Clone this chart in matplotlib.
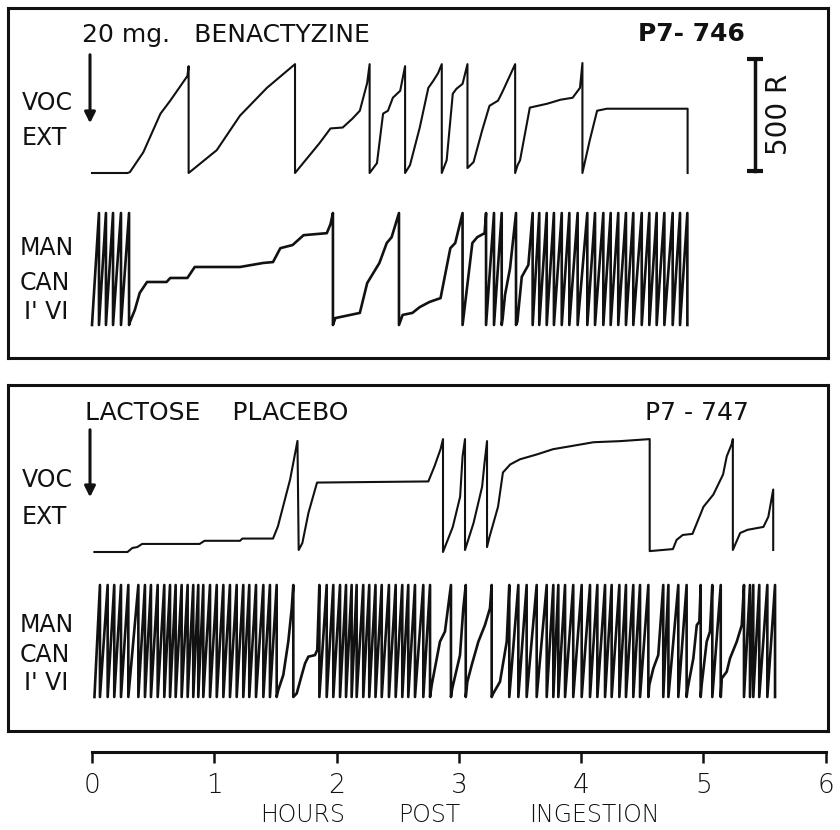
import matplotlib
matplotlib.use("Agg")
import matplotlib.pyplot as plt
import matplotlib.patches as mpatches

# ---- data: cumulative records, time in hours post ingestion, counts in responses ----
# top panel (P7-746, benactyzine), vocal extinction record
voc1_t = [0.00, 0.29, 0.31, 0.42, 0.56, 0.64, 0.78, 0.79, 0.79,
          1.02, 1.21, 1.43, 1.66, 1.66,
          1.86, 1.95, 2.05, 2.13, 2.19, 2.25, 2.27, 2.27,
          2.33, 2.38, 2.42, 2.46, 2.52, 2.56, 2.56,
          2.60, 2.68, 2.75, 2.79, 2.83, 2.86, 2.86,
          2.90, 2.95, 2.98, 3.03, 3.07, 3.07,
          3.12, 3.19, 3.25, 3.32, 3.36, 3.46, 3.46,
          3.48, 3.50, 3.58, 3.72, 3.83, 3.93, 3.99, 4.01, 4.01,
          4.07, 4.13, 4.21, 4.87, 4.87]
voc1_r = [0, 0, 4, 93, 265, 323, 433, 477, 0,
          102, 256, 380, 486, 0,
          133, 199, 203, 243, 278, 402, 486, 0,
          44, 265, 278, 336, 367, 477, 0,
          35, 203, 380, 411, 446, 486, 0,
          57, 354, 376, 398, 486, 22,
          49, 190, 300, 323, 367, 486, 0,
          35, 57, 292, 309, 327, 336, 380, 491, 0,
          146, 278, 287, 287, 0]

# top panel, manipulandum record: pen resets (peaks) and in-between points
man1_start = 0.0
man1_peaks = [0.057, 0.114, 0.172, 0.237, 0.303, 1.97, 2.51, 3.03, 3.222, 3.287,
              3.350, 3.467, 3.603, 3.657, 3.718, 3.777, 3.841, 3.903, 3.971,
              4.050, 4.113, 4.181, 4.241, 4.303, 4.366, 4.426, 4.495, 4.557,
              4.617, 4.680, 4.748, 4.808, 4.868]
man1_mid_t = [0.31, 0.35, 0.39, 0.45, 0.61, 0.64, 0.78, 0.84, 1.21, 1.40, 1.48,
              1.54, 1.64, 1.73, 1.92, 1.95,
              1.99, 2.19, 2.25, 2.30, 2.35, 2.41, 2.45,
              2.54, 2.62, 2.68, 2.76, 2.85, 2.93, 2.97,
              3.11, 3.15, 3.21,
              3.358, 3.377, 3.418, 3.478, 3.514, 3.568]
man1_mid_r = [13, 67, 143, 192, 192, 210, 210, 259, 259, 277, 281,
              343, 357, 401, 410, 450,
              31, 54, 187, 232, 277, 366, 392,
              45, 54, 80, 103, 120, 343, 366,
              366, 392, 410,
              30, 134, 253, 15, 215, 268]

# bottom panel (P7-747, lactose placebo), vocal extinction record
voc2_t = [0.02, 0.29, 0.33, 0.37, 0.41, 0.88, 0.92, 1.21, 1.23, 1.48, 1.52, 1.62, 1.68, 1.69,
          1.72, 1.77, 1.84, 2.75, 2.80, 2.85, 2.87, 2.87,
          2.95, 3.01, 3.03, 3.05, 3.05,
          3.12, 3.19, 3.21, 3.23, 3.23,
          3.25, 3.32, 3.36, 3.42, 3.50, 3.64, 3.77, 3.91, 4.10, 4.32, 4.56, 4.56,
          4.75, 4.78, 4.83, 4.91, 5.00, 5.08, 5.16, 5.19, 5.23, 5.24, 5.24,
          5.30, 5.36, 5.49, 5.53, 5.57, 5.57]
voc2_r = [0, 0, 18, 22, 36, 36, 50, 50, 60, 60, 114, 324, 496, 9,
          40, 175, 310, 315, 382, 459, 504, 0,
          112, 247, 427, 504, 9,
          130, 292, 400, 495, 22,
          67, 202, 355, 391, 414, 436, 459, 472, 490, 495, 504, 4,
          13, 54, 76, 81, 202, 256, 346, 427, 481, 504, 9,
          85, 99, 112, 157, 279, 9]

# bottom panel, manipulandum record
man2_start = 0.02
man2_peaks = [0.065, 0.128, 0.182, 0.237, 0.297, 0.379, 0.433, 0.482, 0.537, 0.591,
              0.638, 0.684, 0.733, 0.782, 0.828, 0.869, 0.910, 0.965, 1.020, 1.074,
              1.128, 1.183, 1.237, 1.286, 1.341, 1.401, 1.455, 1.510, 1.646, 1.859,
              1.919, 1.973, 2.028, 2.077, 2.123, 2.164, 2.218, 2.267, 2.318, 2.369,
              2.428, 2.483, 2.537, 2.586, 2.641, 2.709, 2.764, 2.935, 3.056, 3.268,
              3.412, 3.486, 3.554, 3.636, 3.718, 3.772, 3.813, 3.868, 3.935, 4.004,
              4.072, 4.132, 4.195, 4.249, 4.312, 4.366, 4.426, 4.481, 4.549, 4.671,
              4.713, 4.794, 4.862, 4.977, 5.072, 5.141, 5.331, 5.380, 5.407, 5.456,
              5.522, 5.585]
man2_mid_t = [1.523, 1.564, 1.605, 1.633, 1.674, 1.715, 1.742, 1.769, 1.823, 1.842,
              2.778, 2.845, 2.886, 2.946, 3.009, 3.036,
              3.069, 3.105, 3.159, 3.213, 3.254, 3.281, 3.336, 3.391,
              4.557, 4.590, 4.630, 4.871, 4.917, 4.945, 4.966,
              4.985, 5.026, 5.053, 5.149, 5.190, 5.217, 5.272, 5.313]
man2_mid_r = [31, 98, 247, 396, 16, 98, 150, 180, 187, 210,
              54, 247, 292, 39, 187, 396,
              68, 143, 247, 321, 396, 16, 68, 247,
              54, 128, 187, 39, 173, 321, 336,
              54, 247, 292, 83, 113, 173, 247, 321]

hour_ticks = [0, 1, 2, 3, 4, 5, 6]
axis_words = ["HOURS", "POST", "INGESTION"]
axis_word_hours = [1.72, 2.76, 4.11]

W, H = 840, 830
PX_PER_HOUR = 122.3
X0 = 92
PX_PER_R = 112 / 500
INK = "#111111"


def rect(x0, y0, x1, y1):
    return [x0 / W, 1 - y1 / H, (x1 - x0) / W, (y1 - y0) / H]


def sawtooth(start, peaks, mid_t, mid_r, top=500):
    t, r = [start], [0]
    prev = start
    for p in peaks:
        for mt, mr in zip(mid_t, mid_r):
            if prev < mt < p:
                t.append(mt)
                r.append(mr)
        t += [p, p]
        r += [top, 0]
        prev = p
    return t, r


def record_axes(fig, base_px):
    x0 = X0 - 0.1 * PX_PER_HOUR
    x1 = X0 + 6.0 * PX_PER_HOUR
    ax = fig.add_axes(rect(x0, base_px - 530 * PX_PER_R, x1, base_px + 30 * PX_PER_R))
    ax.set_xlim(-0.1, 6.0)
    ax.set_ylim(-30, 530)
    ax.axis("off")
    ax.patch.set_alpha(0)
    return ax


def label(fig, x, y, s, size=17, **kw):
    fig.text(x / W, 1 - y / H, s, fontsize=size, ha="left", va="center", color=INK, **kw)


def arrow(fig, x, y0, y1):
    fig.add_artist(mpatches.FancyArrowPatch((x / W, 1 - y0 / H), (x / W, 1 - y1 / H),
                                            transform=fig.transFigure, arrowstyle="-|>",
                                            mutation_scale=16, lw=2.2, color=INK))


fig = plt.figure(figsize=(W / 100, H / 100), dpi=100)

# panel frames
for box in [(8, 8, 828, 358), (8, 385, 828, 731)]:
    frame = fig.add_axes(rect(*box))
    frame.set_xticks([])
    frame.set_yticks([])
    for sp in frame.spines.values():
        sp.set_linewidth(2.2)
        sp.set_color(INK)

# records
ax = record_axes(fig, 173)
ax.plot(voc1_t, voc1_r, color=INK, lw=1.5)
bar_t = (755 - X0) / PX_PER_HOUR
ax.plot([bar_t, bar_t], [10, 510], color=INK, lw=2.5, marker="_", ms=11, mew=3)
ax.text((779 - X0) / PX_PER_HOUR, 262, "500 R", rotation=90, ha="center", va="center",
        fontsize=20, color=INK)

t, r = sawtooth(man1_start, man1_peaks, man1_mid_t, man1_mid_r)
ax = record_axes(fig, 325)
ax.plot(t, r, color=INK, lw=1.9)

ax = record_axes(fig, 552)
ax.plot(voc2_t, voc2_r, color=INK, lw=1.5)

t, r = sawtooth(man2_start, man2_peaks, man2_mid_t, man2_mid_r)
ax = record_axes(fig, 697)
ax.plot(t, r, color=INK, lw=1.9)

# labels, top panel
label(fig, 82, 35, "20 mg.   BENACTYZINE", size=18)
label(fig, 638, 34, "P7- 746", size=18, fontweight="bold")
label(fig, 22, 103, "VOC")
label(fig, 22, 138, "EXT")
label(fig, 20, 248, "MAN")
label(fig, 20, 283, "CAN")
label(fig, 24, 312, "I' VI")
arrow(fig, 90, 52, 126)

# labels, bottom panel
label(fig, 85, 413, "LACTOSE    PLACEBO", size=18)
label(fig, 645, 413, "P7 - 747", size=18)
label(fig, 22, 480, "VOC")
label(fig, 22, 517, "EXT")
label(fig, 20, 625, "MAN")
label(fig, 20, 655, "CAN")
label(fig, 24, 683, "I' VI")
arrow(fig, 90, 427, 500)

# time axis
tax = fig.add_axes(rect(X0, 740, X0 + 6 * PX_PER_HOUR, 752))
tax.patch.set_alpha(0)
tax.set_xlim(0, 6)
tax.set_yticks([])
for side in ["top", "left", "right"]:
    tax.spines[side].set_visible(False)
tax.spines["bottom"].set_linewidth(2.2)
tax.spines["bottom"].set_color(INK)
tax.set_xticks(hour_ticks)
tax.set_xticklabels([str(h) for h in hour_ticks], fontsize=19, fontweight="light")
tax.tick_params(axis="x", direction="out", length=8, width=1.8, pad=7, colors=INK)
for word, h in zip(axis_words, axis_word_hours):
    tax.text(h, -5.25, word, transform=tax.get_xaxis_transform(), ha="center",
             va="center", fontsize=17, fontweight="light", color=INK)

plt.savefig("out.png", dpi=100)
